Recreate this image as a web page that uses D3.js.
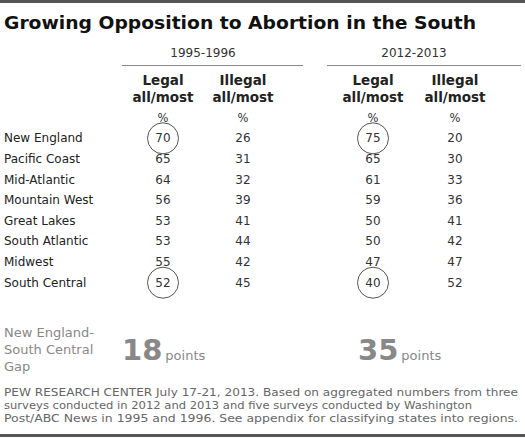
<!DOCTYPE html>
<html><head><meta charset="utf-8">
<script src="https://cdn.jsdelivr.net/npm/d3@7"></script>
<style>body{margin:0;background:#fff}text{font-family:"DejaVu Sans",Verdana,sans-serif}</style>
</head><body>
<script>
const regions = ["New England","Pacific Coast","Mid-Atlantic","Mountain West","Great Lakes","South Atlantic","Midwest","South Central"];
const legal1996 = [70,65,64,56,53,53,55,52];
const illegal1996 = [26,31,32,39,41,44,42,45];
const legal2013 = [75,65,61,59,50,50,47,40];
const illegal2013 = [20,30,33,36,41,42,47,52];
const periods = ["1995-1996","2012-2013"];
const gaps = [18,35];
const columns = [legal1996, illegal1996, legal2013, illegal2013];
const colLabels = [["Legal","all/most"],["Illegal","all/most"],["Legal","all/most"],["Illegal","all/most"]];
const circled = [[0,0],[0,7],[2,0],[2,7]];

const width = 525, height = 438;
const svg = d3.select("body").append("svg").attr("width", width).attr("height", height);

const x = d3.scaleOrdinal().domain([0,1,2,3]).range([163,243,373,455]);
const y = d3.scaleBand().domain(d3.range(regions.length)).range([128,293]);
const mid = i => y(i) + y.bandwidth() / 2;

svg.append("rect").attr("x",0).attr("y",0).attr("width",width).attr("height",3).attr("fill","#555");
svg.append("rect").attr("x",0).attr("y",height-4).attr("width",width).attr("height",3).attr("fill","#555");

svg.append("text").attr("x",4).attr("y",29).attr("font-size",17.5).attr("font-weight","bold")
  .attr("fill","#111").attr("textLength",472).attr("lengthAdjust","spacingAndGlyphs")
  .text("Growing Opposition to Abortion in the South");

periods.forEach((p, i) => {
  const x0 = i ? 327 : 122, x1 = i ? 521 : 303;
  svg.append("text").attr("x",(x(i*2)+x(i*2+1))/2).attr("y",57).attr("text-anchor","middle")
    .attr("font-size",12).attr("fill","#333").text(p);
  svg.append("line").attr("x1",x0).attr("x2",x1).attr("y1",65.5).attr("y2",65.5)
    .attr("stroke","#888").attr("stroke-width",1);
});

colLabels.forEach((l, c) => {
  l.forEach((t, k) => svg.append("text").attr("x",x(c)).attr("y",85+k*17).attr("text-anchor","middle")
    .attr("font-size",13.5).attr("font-weight","bold").attr("fill","#222").text(t));
  svg.append("text").attr("x",x(c)).attr("y",122).attr("text-anchor","middle")
    .attr("font-size",11.5).attr("fill","#333").text("%");
});

svg.selectAll("text.region").data(regions).join("text").attr("class","region")
  .attr("x",4).attr("y",(d,i)=>mid(i)+4).attr("font-size",12).attr("fill","#222").text(d=>d);

columns.forEach((vals, c) => {
  svg.selectAll("text.c"+c).data(vals).join("text").attr("class","c"+c)
    .attr("x",x(c)).attr("y",(d,i)=>mid(i)+4).attr("text-anchor","middle")
    .attr("font-size",12).attr("fill","#333").text(d=>d);
});

svg.selectAll("circle").data(circled).join("circle")
  .attr("cx",d=>x(d[0])).attr("cy",d=>mid(d[1])).attr("r",15.5)
  .attr("fill","none").attr("stroke","#555").attr("stroke-width",1);

["New England-","South Central","Gap"].forEach((t,k) => svg.append("text").attr("x",4).attr("y",337+k*17)
  .attr("font-size",13).attr("fill","#888").text(t));

gaps.forEach((g, i) => {
  const t = svg.append("text").attr("x", i ? 358 : 122).attr("y",360).attr("fill","#888");
  t.append("tspan").attr("font-size",29).attr("font-weight","bold").text(g);
  t.append("tspan").attr("font-size",13).attr("dx",3).text("points");
});

["PEW RESEARCH  CENTER July 17-21, 2013. Based on aggregated numbers from three",
 "surveys conducted in 2012 and 2013 and five surveys conducted by Washington",
 "Post/ABC News in 1995 and 1996.  See appendix for classifying states into regions."]
 .forEach((t,k) => svg.append("text").attr("x",4).attr("y",396+k*13).attr("font-size",9.6)
   .attr("fill","#666").attr("textLength",k==1?468:514).attr("lengthAdjust","spacingAndGlyphs").text(t));
</script>
</body></html>
